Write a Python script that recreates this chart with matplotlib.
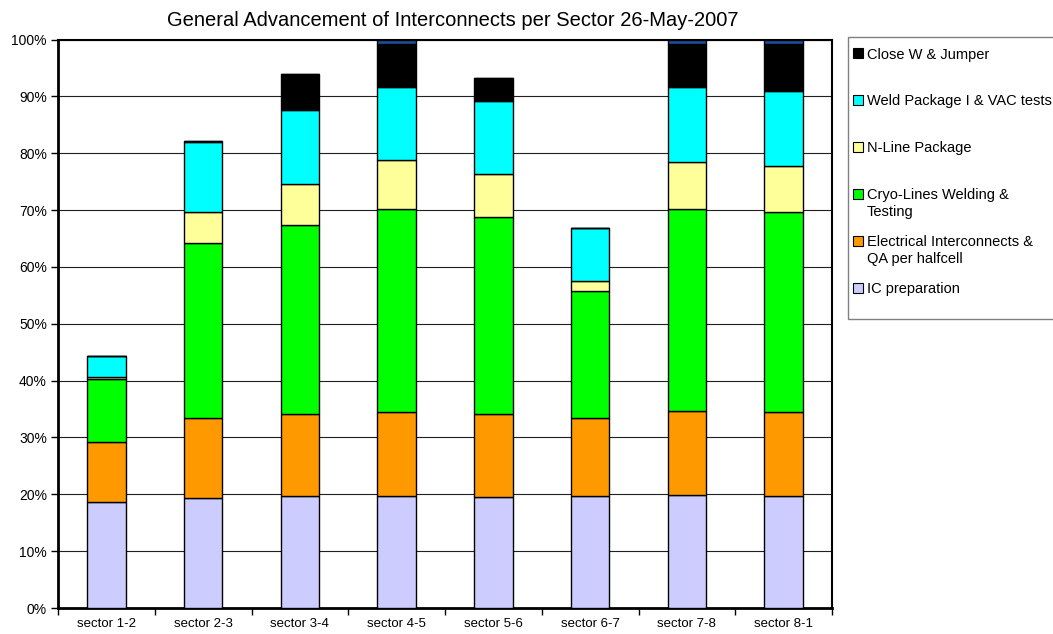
import matplotlib
matplotlib.use('Agg')
import matplotlib.pyplot as plt
import matplotlib.ticker as mticker
from matplotlib.patches import Rectangle
import numpy as np

plt.rcParams['font.family'] = ['Liberation Sans', 'DejaVu Sans']

# =============================================================================
# DATA (percent of sector completed, stacked bottom to top)
# =============================================================================
sectors = ['sector 1-2', 'sector 2-3', 'sector 3-4', 'sector 4-5',
           'sector 5-6', 'sector 6-7', 'sector 7-8', 'sector 8-1']

ic_prep    = [18.7, 19.35, 19.65, 19.65, 19.5, 19.65, 19.8, 19.65]
electrical = [10.5, 14.1, 14.5, 14.75, 14.6, 13.8, 14.9, 14.75]
cryo_lines = [11.1, 30.75, 33.15, 35.8, 34.6, 22.35, 35.5, 35.2]
n_line     = [0.3, 5.4, 7.3, 8.6, 7.6, 1.7, 8.3, 8.2]
weld_pkg   = [3.8, 12.3, 13.0, 12.9, 12.8, 9.4, 13.1, 13.1]
close_w    = [0.0, 0.3, 6.4, 7.5, 4.1, 0.0, 7.6, 8.3]
other      = [0.0, 0.0, 0.0, 0.8, 0.0, 0.0, 0.8, 0.8]   # thin dark-blue sliver, not in legend

series_labels = ['IC preparation',
                 'Electrical Interconnects &\nQA per halfcell',
                 'Cryo-Lines Welding &\nTesting',
                 'N-Line Package',
                 'Weld Package I & VAC tests',
                 'Close W & Jumper']
series_values = [ic_prep, electrical, cryo_lines, n_line, weld_pkg, close_w]
series_colors = ['#CCCCFF', '#FF9900', '#00FF00', '#FFFF99', '#00FFFF', '#000000']

title = 'General Advancement of Interconnects per Sector 26-May-2007'

# =============================================================================
# FIGURE
# =============================================================================
W, H = 1053, 634
fig = plt.figure(figsize=(W / 100, H / 100), dpi=100)
ax = fig.add_axes([58 / W, 1 - 608 / H, (832 - 58) / W, (608 - 39.5) / H])

x = np.arange(len(sectors))
bottom = np.zeros(len(sectors))
for vals, color in zip(series_values + [other], series_colors + ['#1F4E99']):
    ax.bar(x, vals, bottom=bottom, width=0.4, color=color,
           edgecolor='black', linewidth=1, zorder=3)
    bottom += np.array(vals)

ax.set_xlim(-0.5, len(sectors) - 0.5)
ax.set_ylim(0, 100)
ax.set_yticks(np.arange(0, 101, 10))
ax.yaxis.set_major_formatter(mticker.FuncFormatter(lambda v, p: f'{v:.0f}%'))
ax.set_xticks(x)
ax.set_xticklabels(sectors)
ax.set_xticks(np.arange(-0.5, len(sectors), 1), minor=True)
ax.tick_params(axis='x', which='major', length=0, pad=7.5, labelsize=9.5)
ax.tick_params(axis='x', which='minor', length=5, width=1, direction='out')
ax.tick_params(axis='y', length=5, width=1, direction='out', pad=3, labelsize=10)
ax.grid(axis='y', color='#202020', linewidth=0.8, zorder=0)
ax.set_axisbelow(True)

for side in ['top', 'right']:
    ax.spines[side].set_linewidth(1.5)
for side in ['left', 'bottom']:
    ax.spines[side].set_linewidth(2)

fig.text(453 / W, 1 - 26 / H, title, ha='center', va='baseline', fontsize=14.5)

# Legend drawn by hand so that entries sit at even spacing like the original
fig.patches.append(Rectangle((848 / W, 1 - 319 / H), 220 / W, (319 - 37) / H,
                             transform=fig.transFigure, facecolor='white',
                             edgecolor='#808080', linewidth=1))
for i, (label, color) in enumerate(zip(series_labels[::-1], series_colors[::-1])):
    yc = 53 + 47 * i
    fig.patches.append(Rectangle((853 / W, 1 - (yc + 5) / H), 10 / W, 10 / H,
                                 transform=fig.transFigure, facecolor=color,
                                 edgecolor='black', linewidth=0.8))
    fig.text(867 / W, 1 - (yc - 5.5) / H, label, ha='left', va='top',
             fontsize=10.5, linespacing=1.25)

fig.savefig('out.png', dpi=100)
